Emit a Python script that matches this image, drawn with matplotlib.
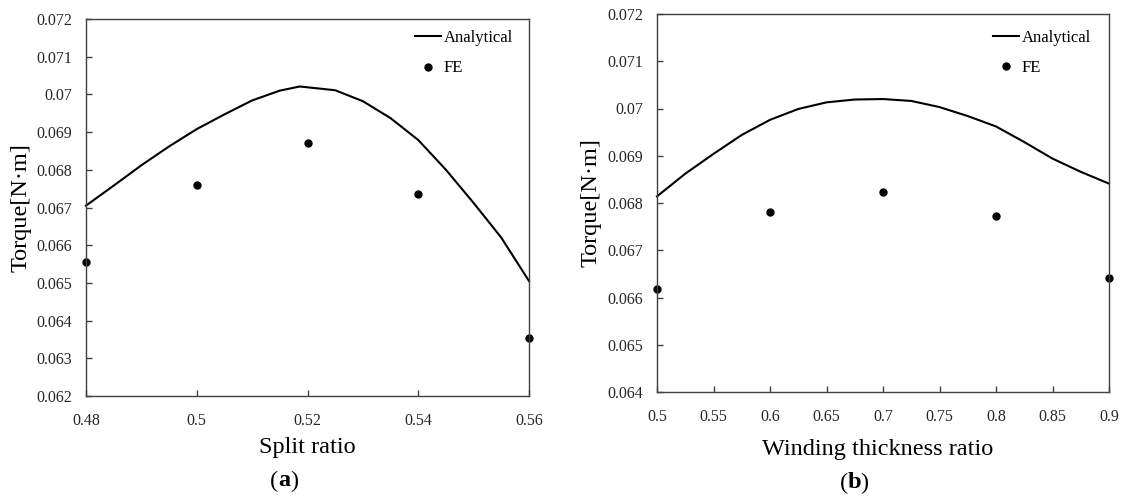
import matplotlib
matplotlib.use("Agg")
import matplotlib.pyplot as plt
from matplotlib.ticker import FuncFormatter

plt.rcParams['font.family'] = ['Liberation Serif', 'DejaVu Serif']

# (a) split ratio
split_x = [0.480, 0.485, 0.490, 0.495, 0.500, 0.505, 0.510, 0.515, 0.5186,
           0.525, 0.530, 0.535, 0.540, 0.545, 0.550, 0.555, 0.560]
split_analytical = [0.06705, 0.06758, 0.06812, 0.06862, 0.06908, 0.06947, 0.06984, 0.07010, 0.07021,
                    0.07011, 0.06982, 0.06937, 0.06879, 0.06800, 0.06712, 0.06620, 0.06505]
split_fe_x = [0.48, 0.50, 0.52, 0.54, 0.56]
split_fe = [0.06556, 0.06760, 0.06871, 0.06735, 0.06355]

# (b) winding thickness ratio
wind_x = [0.500, 0.525, 0.550, 0.575, 0.600, 0.625, 0.650, 0.675, 0.700,
          0.725, 0.750, 0.775, 0.800, 0.825, 0.850, 0.875, 0.900]
wind_analytical = [0.06814, 0.06862, 0.06904, 0.06944, 0.06976, 0.06999, 0.07013, 0.07019, 0.07020,
                   0.07016, 0.07003, 0.06984, 0.06962, 0.06929, 0.06894, 0.06866, 0.06841]
wind_fe_x = [0.5, 0.6, 0.7, 0.8, 0.9]
wind_fe = [0.06617, 0.06780, 0.06823, 0.06773, 0.06642]

W, H = 1122, 497
fig = plt.figure(figsize=(W / 100, H / 100), dpi=100)

def px_axes(x0, y0, x1, y1):
    return fig.add_axes([x0 / W, 1 - y1 / H, (x1 - x0) / W, (y1 - y0) / H])

ax1 = px_axes(86, 19, 529, 396)
ax2 = px_axes(657, 14, 1109, 392)

fmt = FuncFormatter(lambda v, p: f"{v:g}")
edge = '#404040'

def style(ax, xlim, ylim, xticks, yticks):
    ax.set_xlim(*xlim)
    ax.set_ylim(*ylim)
    ax.set_xticks(xticks)
    ax.set_yticks(yticks)
    ax.xaxis.set_major_formatter(fmt)
    ax.yaxis.set_major_formatter(fmt)
    ax.tick_params(direction='in', length=4, width=1, color=edge, labelsize=11.5,
                   labelcolor='#262626')
    ax.tick_params(axis='x', pad=12)
    ax.tick_params(axis='y', pad=10)
    for s in ax.spines.values():
        s.set_color(edge)
        s.set_linewidth(1.0)

ax1.plot(split_x, split_analytical, color='black', lw=1.5, label='Analytical', clip_on=False)
ax1.plot(split_fe_x, split_fe, 'o', color='black', ms=5, label='FE', clip_on=False)
style(ax1, (0.48, 0.56), (0.062, 0.072), [0.48, 0.50, 0.52, 0.54, 0.56],
      [0.062 + 0.001 * i for i in range(11)])

ax2.plot(wind_x, wind_analytical, color='black', lw=1.5, label='Analytical', clip_on=False)
ax2.plot(wind_fe_x, wind_fe, 'o', color='black', ms=5, label='FE', clip_on=False)
style(ax2, (0.5, 0.9), (0.064, 0.072), [0.5 + 0.05 * i for i in range(9)],
      [0.064 + 0.001 * i for i in range(9)])

leg_kw = dict(loc='upper right', frameon=False, fontsize=12, handlelength=1.6,
              handletextpad=0.15, labelspacing=0.85, borderaxespad=0, borderpad=0)
ax1.legend(bbox_to_anchor=(0.964, 0.97), **leg_kw)
ax2.legend(bbox_to_anchor=(0.960, 0.958), **leg_kw)

# axis titles and panel letters
fig.text(21 / W, 1 - 208 / H, 'Torque[N·m]', rotation=90, ha='center', va='center', fontsize=17.5)
fig.text(591 / W, 1 - 203 / H, 'Torque[N·m]', rotation=90, ha='center', va='center', fontsize=17.5)
fig.text(307 / W, 1 - 447 / H, 'Split ratio', ha='center', va='center', fontsize=17.5)
fig.text(878 / W, 1 - 450 / H, 'Winding thickness ratio', ha='center', va='center', fontsize=17.5)
fig.text(278 / W, 1 - 481 / H, '(', ha='right', va='center', fontsize=17.5)
fig.text(278 / W, 1 - 481 / H, 'a', ha='left', va='center', fontsize=17.5, fontweight='bold')
fig.text(848 / W, 1 - 483 / H, '(', ha='right', va='center', fontsize=17.5)
fig.text(848 / W, 1 - 483 / H, 'b', ha='left', va='center', fontsize=17.5, fontweight='bold')
fig.text(290 / W, 1 - 481 / H, ')', ha='left', va='center', fontsize=17.5)
fig.text(860 / W, 1 - 483 / H, ')', ha='left', va='center', fontsize=17.5)

fig.savefig('out.png', dpi=100)
